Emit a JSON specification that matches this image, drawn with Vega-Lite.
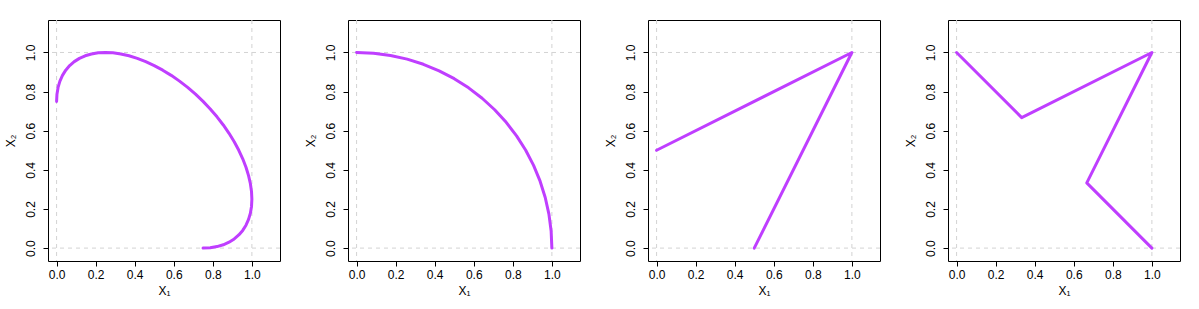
{
  "$schema": "https://vega.github.io/schema/vega-lite/v6.json",
  "padding": {"left": 3, "top": 19, "right": 0, "bottom": 0},
  "background": "white",
  "spacing": 68,
  "bounds": "flush",
  "datasets": {
    "grid": [{"g": 0}, {"g": 1}],
    "curves": [
      {"panel": 1, "i": 0, "x1": 0.0, "x2": 0.75},
      {"panel": 1, "i": 1, "x1": 0.001905, "x2": 0.78679},
      {"panel": 1, "i": 2, "x1": 0.007596, "x2": 0.8214},
      {"panel": 1, "i": 3, "x1": 0.017037, "x2": 0.85355},
      {"panel": 1, "i": 4, "x1": 0.030154, "x2": 0.88302},
      {"panel": 1, "i": 5, "x1": 0.046846, "x2": 0.90958},
      {"panel": 1, "i": 6, "x1": 0.066987, "x2": 0.93301},
      {"panel": 1, "i": 7, "x1": 0.090424, "x2": 0.95315},
      {"panel": 1, "i": 8, "x1": 0.11698, "x2": 0.96985},
      {"panel": 1, "i": 9, "x1": 0.14645, "x2": 0.98296},
      {"panel": 1, "i": 10, "x1": 0.17861, "x2": 0.9924},
      {"panel": 1, "i": 11, "x1": 0.21321, "x2": 0.9981},
      {"panel": 1, "i": 12, "x1": 0.25, "x2": 1.0},
      {"panel": 1, "i": 13, "x1": 0.28869, "x2": 0.9981},
      {"panel": 1, "i": 14, "x1": 0.32899, "x2": 0.9924},
      {"panel": 1, "i": 15, "x1": 0.37059, "x2": 0.98296},
      {"panel": 1, "i": 16, "x1": 0.41318, "x2": 0.96985},
      {"panel": 1, "i": 17, "x1": 0.45642, "x2": 0.95315},
      {"panel": 1, "i": 18, "x1": 0.5, "x2": 0.93301},
      {"panel": 1, "i": 19, "x1": 0.54358, "x2": 0.90958},
      {"panel": 1, "i": 20, "x1": 0.58682, "x2": 0.88302},
      {"panel": 1, "i": 21, "x1": 0.62941, "x2": 0.85355},
      {"panel": 1, "i": 22, "x1": 0.67101, "x2": 0.8214},
      {"panel": 1, "i": 23, "x1": 0.71131, "x2": 0.78679},
      {"panel": 1, "i": 24, "x1": 0.75, "x2": 0.75},
      {"panel": 1, "i": 25, "x1": 0.78679, "x2": 0.71131},
      {"panel": 1, "i": 26, "x1": 0.8214, "x2": 0.67101},
      {"panel": 1, "i": 27, "x1": 0.85355, "x2": 0.62941},
      {"panel": 1, "i": 28, "x1": 0.88302, "x2": 0.58682},
      {"panel": 1, "i": 29, "x1": 0.90958, "x2": 0.54358},
      {"panel": 1, "i": 30, "x1": 0.93301, "x2": 0.5},
      {"panel": 1, "i": 31, "x1": 0.95315, "x2": 0.45642},
      {"panel": 1, "i": 32, "x1": 0.96985, "x2": 0.41318},
      {"panel": 1, "i": 33, "x1": 0.98296, "x2": 0.37059},
      {"panel": 1, "i": 34, "x1": 0.9924, "x2": 0.32899},
      {"panel": 1, "i": 35, "x1": 0.9981, "x2": 0.28869},
      {"panel": 1, "i": 36, "x1": 1.0, "x2": 0.25},
      {"panel": 1, "i": 37, "x1": 0.9981, "x2": 0.21321},
      {"panel": 1, "i": 38, "x1": 0.9924, "x2": 0.17861},
      {"panel": 1, "i": 39, "x1": 0.98296, "x2": 0.14645},
      {"panel": 1, "i": 40, "x1": 0.96985, "x2": 0.11698},
      {"panel": 1, "i": 41, "x1": 0.95315, "x2": 0.090424},
      {"panel": 1, "i": 42, "x1": 0.93301, "x2": 0.066987},
      {"panel": 1, "i": 43, "x1": 0.90958, "x2": 0.046846},
      {"panel": 1, "i": 44, "x1": 0.88302, "x2": 0.030154},
      {"panel": 1, "i": 45, "x1": 0.85355, "x2": 0.017037},
      {"panel": 1, "i": 46, "x1": 0.8214, "x2": 0.007596},
      {"panel": 1, "i": 47, "x1": 0.78679, "x2": 0.001905},
      {"panel": 1, "i": 48, "x1": 0.75, "x2": 0.0},
      {"panel": 2, "i": 0, "x1": 0.0, "x2": 1.0},
      {"panel": 2, "i": 1, "x1": 0.08716, "x2": 0.99619},
      {"panel": 2, "i": 2, "x1": 0.17365, "x2": 0.98481},
      {"panel": 2, "i": 3, "x1": 0.25882, "x2": 0.96593},
      {"panel": 2, "i": 4, "x1": 0.34202, "x2": 0.93969},
      {"panel": 2, "i": 5, "x1": 0.42262, "x2": 0.90631},
      {"panel": 2, "i": 6, "x1": 0.5, "x2": 0.86603},
      {"panel": 2, "i": 7, "x1": 0.57358, "x2": 0.81915},
      {"panel": 2, "i": 8, "x1": 0.64279, "x2": 0.76604},
      {"panel": 2, "i": 9, "x1": 0.70711, "x2": 0.70711},
      {"panel": 2, "i": 10, "x1": 0.76604, "x2": 0.64279},
      {"panel": 2, "i": 11, "x1": 0.81915, "x2": 0.57358},
      {"panel": 2, "i": 12, "x1": 0.86603, "x2": 0.5},
      {"panel": 2, "i": 13, "x1": 0.90631, "x2": 0.42262},
      {"panel": 2, "i": 14, "x1": 0.93969, "x2": 0.34202},
      {"panel": 2, "i": 15, "x1": 0.96593, "x2": 0.25882},
      {"panel": 2, "i": 16, "x1": 0.98481, "x2": 0.17365},
      {"panel": 2, "i": 17, "x1": 0.99619, "x2": 0.08716},
      {"panel": 2, "i": 18, "x1": 1.0, "x2": 0.0},
      {"panel": 3, "i": 0, "x1": 0.5, "x2": 0.0},
      {"panel": 3, "i": 1, "x1": 1.0, "x2": 1.0},
      {"panel": 3, "i": 2, "x1": 0.0, "x2": 0.5},
      {"panel": 4, "i": 0, "x1": 0.0, "x2": 1.0},
      {"panel": 4, "i": 1, "x1": 0.33333, "x2": 0.66667},
      {"panel": 4, "i": 2, "x1": 1.0, "x2": 1.0},
      {"panel": 4, "i": 3, "x1": 0.66667, "x2": 0.33333},
      {"panel": 4, "i": 4, "x1": 1.0, "x2": 0.0}
    ]
  },
  "hconcat": [
    {
      "width": 232, "height": 241,
      "layer": [
        {"data": {"name": "grid"}, "mark": {"type": "rule", "color": "#d3d3d3", "strokeDash": [4, 4], "strokeWidth": 1},
         "encoding": {"x": {"field": "g", "type": "quantitative", "scale": {"domain": [-0.044, 1.144], "nice": false, "zero": false}, "axis": {"values": [0, 0.2, 0.4, 0.6, 0.8, 1.0], "format": ".1f", "title": "X₁"}}}},
        {"data": {"name": "grid"}, "mark": {"type": "rule", "color": "#d3d3d3", "strokeDash": [4, 4], "strokeWidth": 1},
         "encoding": {"y": {"field": "g", "type": "quantitative", "scale": {"domain": [-0.066, 1.166], "nice": false, "zero": false}, "axis": {"values": [0, 0.2, 0.4, 0.6, 0.8, 1.0], "format": ".1f", "title": "X₂"}}}},
        {"data": {"name": "curves"}, "transform": [{"filter": "datum.panel == 1"}],
         "mark": {"type": "line", "color": "#BF3EFF", "strokeWidth": 3, "strokeCap": "round", "strokeJoin": "round"},
         "encoding": {
           "x": {"field": "x1", "type": "quantitative", "scale": {"domain": [-0.044, 1.144], "nice": false, "zero": false}},
           "y": {"field": "x2", "type": "quantitative", "scale": {"domain": [-0.066, 1.166], "nice": false, "zero": false}},
           "order": {"field": "i", "type": "quantitative"}}}
      ]
    },
    {
      "width": 232, "height": 241,
      "layer": [
        {"data": {"name": "grid"}, "mark": {"type": "rule", "color": "#d3d3d3", "strokeDash": [4, 4], "strokeWidth": 1},
         "encoding": {"x": {"field": "g", "type": "quantitative", "scale": {"domain": [-0.044, 1.144], "nice": false, "zero": false}, "axis": {"values": [0, 0.2, 0.4, 0.6, 0.8, 1.0], "format": ".1f", "title": "X₁"}}}},
        {"data": {"name": "grid"}, "mark": {"type": "rule", "color": "#d3d3d3", "strokeDash": [4, 4], "strokeWidth": 1},
         "encoding": {"y": {"field": "g", "type": "quantitative", "scale": {"domain": [-0.066, 1.166], "nice": false, "zero": false}, "axis": {"values": [0, 0.2, 0.4, 0.6, 0.8, 1.0], "format": ".1f", "title": "X₂"}}}},
        {"data": {"name": "curves"}, "transform": [{"filter": "datum.panel == 2"}],
         "mark": {"type": "line", "color": "#BF3EFF", "strokeWidth": 3, "strokeCap": "round", "strokeJoin": "round"},
         "encoding": {
           "x": {"field": "x1", "type": "quantitative", "scale": {"domain": [-0.044, 1.144], "nice": false, "zero": false}},
           "y": {"field": "x2", "type": "quantitative", "scale": {"domain": [-0.066, 1.166], "nice": false, "zero": false}},
           "order": {"field": "i", "type": "quantitative"}}}
      ]
    },
    {
      "width": 232, "height": 241,
      "layer": [
        {"data": {"name": "grid"}, "mark": {"type": "rule", "color": "#d3d3d3", "strokeDash": [4, 4], "strokeWidth": 1},
         "encoding": {"x": {"field": "g", "type": "quantitative", "scale": {"domain": [-0.044, 1.144], "nice": false, "zero": false}, "axis": {"values": [0, 0.2, 0.4, 0.6, 0.8, 1.0], "format": ".1f", "title": "X₁"}}}},
        {"data": {"name": "grid"}, "mark": {"type": "rule", "color": "#d3d3d3", "strokeDash": [4, 4], "strokeWidth": 1},
         "encoding": {"y": {"field": "g", "type": "quantitative", "scale": {"domain": [-0.066, 1.166], "nice": false, "zero": false}, "axis": {"values": [0, 0.2, 0.4, 0.6, 0.8, 1.0], "format": ".1f", "title": "X₂"}}}},
        {"data": {"name": "curves"}, "transform": [{"filter": "datum.panel == 3"}],
         "mark": {"type": "line", "color": "#BF3EFF", "strokeWidth": 3, "strokeCap": "round", "strokeJoin": "round"},
         "encoding": {
           "x": {"field": "x1", "type": "quantitative", "scale": {"domain": [-0.044, 1.144], "nice": false, "zero": false}},
           "y": {"field": "x2", "type": "quantitative", "scale": {"domain": [-0.066, 1.166], "nice": false, "zero": false}},
           "order": {"field": "i", "type": "quantitative"}}}
      ]
    },
    {
      "width": 232, "height": 241,
      "layer": [
        {"data": {"name": "grid"}, "mark": {"type": "rule", "color": "#d3d3d3", "strokeDash": [4, 4], "strokeWidth": 1},
         "encoding": {"x": {"field": "g", "type": "quantitative", "scale": {"domain": [-0.044, 1.144], "nice": false, "zero": false}, "axis": {"values": [0, 0.2, 0.4, 0.6, 0.8, 1.0], "format": ".1f", "title": "X₁"}}}},
        {"data": {"name": "grid"}, "mark": {"type": "rule", "color": "#d3d3d3", "strokeDash": [4, 4], "strokeWidth": 1},
         "encoding": {"y": {"field": "g", "type": "quantitative", "scale": {"domain": [-0.066, 1.166], "nice": false, "zero": false}, "axis": {"values": [0, 0.2, 0.4, 0.6, 0.8, 1.0], "format": ".1f", "title": "X₂"}}}},
        {"data": {"name": "curves"}, "transform": [{"filter": "datum.panel == 4"}],
         "mark": {"type": "line", "color": "#BF3EFF", "strokeWidth": 3, "strokeCap": "round", "strokeJoin": "round"},
         "encoding": {
           "x": {"field": "x1", "type": "quantitative", "scale": {"domain": [-0.044, 1.144], "nice": false, "zero": false}},
           "y": {"field": "x2", "type": "quantitative", "scale": {"domain": [-0.066, 1.166], "nice": false, "zero": false}},
           "order": {"field": "i", "type": "quantitative"}}}
      ]
    }
  ],
  "config": {
    "font": "Liberation Sans",
    "view": {"stroke": "#000000", "strokeWidth": 1},
    "axis": {
      "grid": false, "domain": false,
      "tickSize": 5, "tickColor": "#000000", "tickWidth": 1,
      "labelFont": "Liberation Sans", "labelFontSize": 12, "labelColor": "#000000",
      "titleFont": "Liberation Sans", "titleFontSize": 12, "titleFontWeight": "normal", "titleColor": "#000000"
    },
    "axisX": {"labelPadding": 3, "titlePadding": 5, "labelFlush": false},
    "axisY": {"labelAngle": 270, "labelAlign": "center", "labelBaseline": "bottom", "labelPadding": 6, "titlePadding": 7, "labelFlush": false}
  }
}
